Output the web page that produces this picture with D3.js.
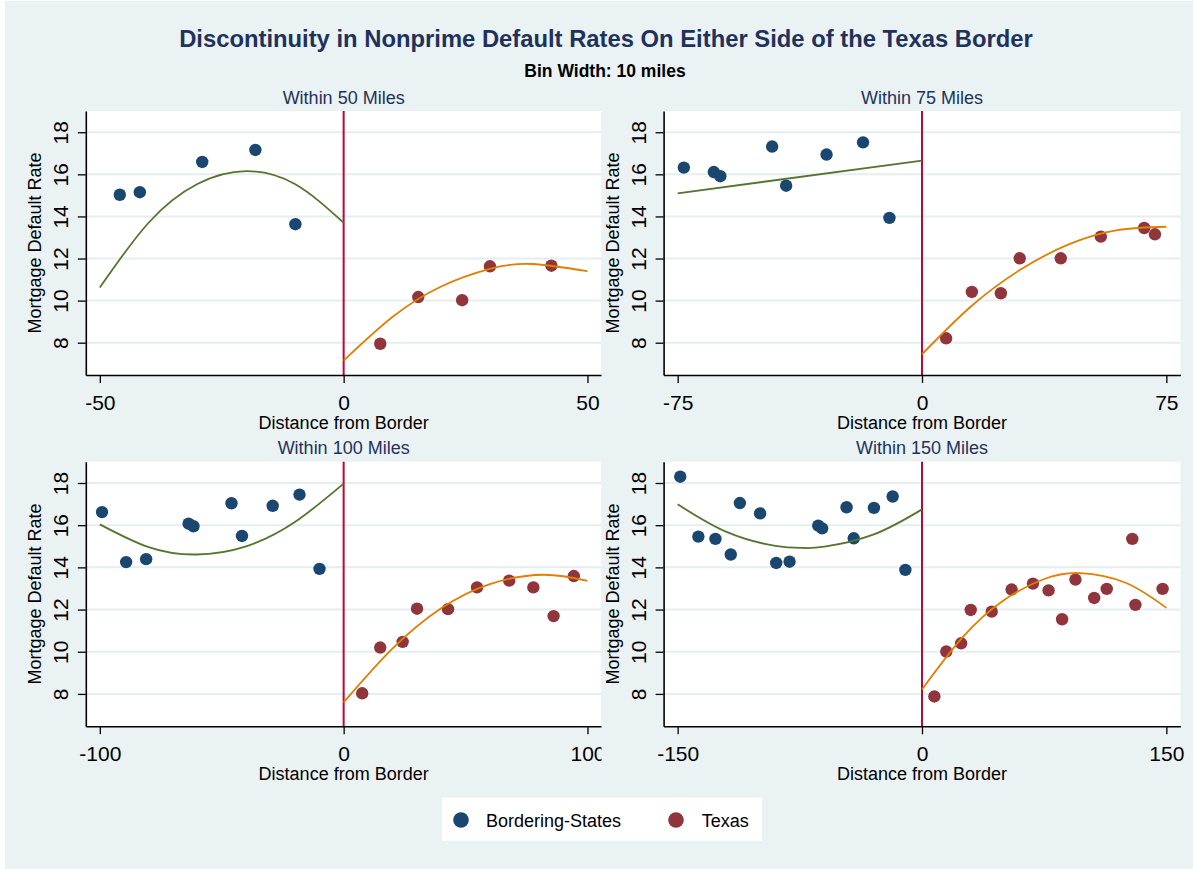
<!DOCTYPE html>
<html>
<head>
<meta charset="utf-8">
<script src="https://cdn.jsdelivr.net/npm/d3@7"></script>
<style>
  body { margin: 0; background: #fff; }
  svg { display: block; }
  text { font-family: "Liberation Sans", Arial, Helvetica, sans-serif; }
</style>
</head>
<body>
<svg id="chart" width="1193" height="869"></svg>
<script>
// ---- text ----
const chartTitle = "Discontinuity in Nonprime Default Rates On Either Side of the Texas Border";
const chartSubtitle = "Bin Width: 10 miles";
const panelTitles = ["Within 50 Miles", "Within 75 Miles", "Within 100 Miles", "Within 150 Miles"];
const bandwidths = [50, 75, 100, 150];
const yTicks = [8, 10, 12, 14, 16, 18];
const seriesNames = ["Bordering-States", "Texas"];
const xLabel = "Distance from Border";
const yLabel = "Mortgage Default Rate";

// ---- binned means: [distance from border (miles), default rate (%)] ----
const border50 = [[-45.9, 15.03], [-41.8, 15.15], [-29.0, 16.59], [-18.1, 17.16], [-9.9, 13.63]];
const texas50 = [[7.5, 7.95], [15.3, 10.17], [24.3, 10.02], [30.0, 11.63], [42.6, 11.66]];

const border75 = [[-73.1, 16.32], [-63.9, 16.11], [-61.9, 15.91], [-46.0, 17.32], [-41.7, 15.46],
                  [-29.3, 16.94], [-18.1, 17.52], [-10.0, 13.93]];
const texas75 = [[7.4, 8.21], [15.3, 10.41], [24.2, 10.35], [30.0, 12.01], [42.6, 12.01],
                 [54.9, 13.04], [68.2, 13.45], [71.5, 13.15]];

const border100 = [[-99.1, 16.62], [-89.2, 14.25], [-81.0, 14.39], [-63.6, 16.07], [-61.6, 15.95],
                   [-46.0, 17.04], [-41.7, 15.49], [-29.1, 16.92], [-18.1, 17.45], [-9.9, 13.93]];
const texas100 = [[7.6, 8.03], [15.0, 10.20], [24.2, 10.47], [30.1, 12.04], [42.8, 12.02],
                  [54.7, 13.05], [67.9, 13.37], [77.8, 13.05], [86.1, 11.69], [94.4, 13.59]];

const border150 = [[-148.4, 18.30], [-137.3, 15.46], [-126.8, 15.35], [-117.4, 14.61], [-111.8, 17.05],
                   [-99.4, 16.56], [-89.5, 14.21], [-81.3, 14.27], [-63.7, 15.98], [-61.3, 15.85],
                   [-46.3, 16.85], [-41.9, 15.38], [-29.5, 16.82], [-18.0, 17.36], [-10.2, 13.88]];
const texas150 = [[7.6, 7.88], [14.9, 10.01], [24.0, 10.40], [29.9, 11.98], [42.8, 11.90],
                  [55.0, 12.95], [68.1, 13.23], [77.7, 12.91], [86.0, 11.54], [94.2, 13.42],
                  [105.7, 12.55], [113.4, 12.98], [129.1, 15.35], [131.0, 12.22], [147.7, 12.98]];

// ---- fitted curves on each side of the border ----
const fitBorder50 = [[-50, 10.62], [-40, 13.70], [-30, 15.54], [-20, 16.15], [-10, 15.54], [0, 13.70]];
const fitTexas50 = [[0, 7.15], [10, 9.22], [20, 10.67], [30, 11.51], [38.6, 11.74], [50, 11.40]];

const fitBorder75 = [[-75, 15.10], [0, 16.65]];
const fitTexas75 = [[0, 7.45], [15, 9.72], [30, 11.45], [45, 12.67], [60, 13.35], [75, 13.51]];

const fitBorder100 = [[-100, 16.04], [-80, 14.96], [-60.5, 14.61], [-40, 15.00], [-20, 16.15], [0, 17.97]];
const fitTexas100 = [[0, 7.60], [20, 10.15], [40, 12.06], [60, 13.21], [82, 13.65], [100, 13.36]];

const fitBorder150 = [[-150, 16.99], [-120, 15.68], [-90, 15.02], [-73, 14.92], [-60, 14.98], [-30, 15.55], [0, 16.75]];
const fitTexas150 = [[0, 8.21], [25, 10.69], [50, 12.43], [75, 13.45], [97, 13.73], [125, 13.27], [150, 12.08]];

// ---- styling ----
const colors = {
  bg: "#eaf2f3", grid: "#e6eef0", border: "#1a476f", texas: "#90353b",
  fitBorder: "#55752f", fitTexas: "#e37e00", cutoff: "#c10534", title: "#1e325c"
};
const yDomain = [6.465, 19.01];
const xPad = 1.0575;

const svg = d3.select("#chart");
const W = 1193, H = 869;

svg.append("rect").attr("x", 0).attr("y", 0).attr("width", W).attr("height", H).attr("fill", "#fff");
svg.append("rect").attr("x", 5).attr("y", 1).attr("width", W - 5).attr("height", H - 1).attr("fill", colors.bg);

svg.append("text").attr("x", 606).attr("y", 46.5).attr("text-anchor", "middle")
  .attr("font-size", 23.8).attr("font-weight", "bold").attr("fill", colors.title).text(chartTitle);
svg.append("text").attr("x", 605).attr("y", 76.5).attr("text-anchor", "middle")
  .attr("font-size", 17.5).attr("font-weight", "bold").attr("fill", "#000").text(chartSubtitle);

const cols = [[85.8, 601.5], [663.6, 1180.4]];
const rows = [[111, 375], [461.7, 726.3]];

const panels = [
  { title: panelTitles[0], lim: bandwidths[0], border: border50, texas: texas50, fitB: fitBorder50, fitT: fitTexas50, c: 0, r: 0 },
  { title: panelTitles[1], lim: bandwidths[1], border: border75, texas: texas75, fitB: fitBorder75, fitT: fitTexas75, c: 1, r: 0 },
  { title: panelTitles[2], lim: bandwidths[2], border: border100, texas: texas100, fitB: fitBorder100, fitT: fitTexas100, c: 0, r: 1 },
  { title: panelTitles[3], lim: bandwidths[3], border: border150, texas: texas150, fitB: fitBorder150, fitT: fitTexas150, c: 1, r: 1 }
];

const defs = svg.append("defs");
defs.append("clipPath").attr("id", "leftCol")
  .append("rect").attr("x", 0).attr("y", 0).attr("width", cols[0][1]).attr("height", H);

panels.forEach((p, i) => {
  const [x0, x1] = cols[p.c];
  const [y0, y1] = rows[p.r];
  const g = svg.append("g");
  if (p.c === 0) g.attr("clip-path", "url(#leftCol)");

  const x = d3.scaleLinear().domain([-p.lim * xPad, p.lim * xPad]).range([x0, x1]);
  const y = d3.scaleLinear().domain(yDomain).range([y1, y0]);

  // plot area
  g.append("rect").attr("x", x0).attr("y", y0).attr("width", x1 - x0).attr("height", y1 - y0).attr("fill", "#fff");

  // horizontal grid
  g.append("g").selectAll("line").data(yTicks).join("line")
    .attr("x1", x0).attr("x2", x1).attr("y1", d => y(d)).attr("y2", d => y(d))
    .attr("stroke", colors.grid).attr("stroke-width", 2);

  // border cutoff
  g.append("line").attr("x1", x(0)).attr("x2", x(0)).attr("y1", y0).attr("y2", y1)
    .attr("stroke", colors.cutoff).attr("stroke-width", 2);

  // binned points
  g.append("g").selectAll("circle").data(p.border).join("circle")
    .attr("cx", d => x(d[0])).attr("cy", d => y(d[1])).attr("r", 6.2).attr("fill", colors.border);
  g.append("g").selectAll("circle").data(p.texas).join("circle")
    .attr("cx", d => x(d[0])).attr("cy", d => y(d[1])).attr("r", 6.2).attr("fill", colors.texas);

  // fitted curves
  const line = d3.line().x(d => x(d[0])).y(d => y(d[1])).curve(d3.curveNatural);
  g.append("path").datum(p.fitB).attr("d", line).attr("fill", "none")
    .attr("stroke", colors.fitBorder).attr("stroke-width", 1.8);
  g.append("path").datum(p.fitT).attr("d", line).attr("fill", "none")
    .attr("stroke", colors.fitTexas).attr("stroke-width", 1.8);

  // x axis (plain hyphen for negatives)
  const xa = g.append("g").attr("transform", `translate(0,${y1})`)
    .call(d3.axisBottom(x).tickValues([-p.lim, 0, p.lim]).tickSize(8).tickSizeOuter(0).tickFormat(d => String(d)));
  xa.select(".domain").attr("stroke", "#000").attr("stroke-width", 1.6);
  xa.selectAll(".tick line").attr("stroke", "#000").attr("stroke-width", 1.3);
  xa.selectAll(".tick text").attr("y", 35).attr("dy", null)
    .attr("font-size", 21).attr("font-family", "Liberation Sans, Arial, sans-serif").attr("fill", "#000");

  // y axis
  const ya = g.append("g").attr("transform", `translate(${x0},0)`)
    .call(d3.axisLeft(y).tickValues(yTicks).tickSize(8).tickSizeOuter(0));
  ya.select(".domain").attr("stroke", "#000").attr("stroke-width", 1.6);
  ya.selectAll(".tick line").attr("stroke", "#000").attr("stroke-width", 1.3);
  ya.selectAll(".tick text").attr("x", null).attr("dy", null).attr("text-anchor", "middle")
    .attr("transform", "translate(-18,0) rotate(-90)")
    .attr("font-size", 21).attr("font-family", "Liberation Sans, Arial, sans-serif").attr("fill", "#000");

  // axis titles
  g.append("text").attr("x", (x0 + x1) / 2).attr("y", y1 + 54).attr("text-anchor", "middle")
    .attr("font-size", 18).attr("fill", "#000").text(xLabel);
  g.append("text").attr("transform", `translate(${x0 - 44.8},${(y0 + y1) / 2}) rotate(-90)`)
    .attr("text-anchor", "middle").attr("font-size", 18).attr("fill", "#000").text(yLabel);

  // panel title
  g.append("text").attr("x", (x0 + x1) / 2).attr("y", y0 - 7.5).attr("text-anchor", "middle")
    .attr("font-size", 18).attr("fill", colors.title).text(p.title);
});

// legend
const lg = svg.append("g");
lg.append("rect").attr("x", 442).attr("y", 797.7).attr("width", 320).attr("height", 43).attr("fill", "#fff");
const legendItems = [
  { name: seriesNames[0], color: colors.border, mx: 461, tx: 486 },
  { name: seriesNames[1], color: colors.texas, mx: 676, tx: 701.7 }
];
legendItems.forEach(d => {
  lg.append("circle").attr("cx", d.mx).attr("cy", 820).attr("r", 7.8).attr("fill", d.color);
  lg.append("text").attr("x", d.tx).attr("y", 826.7).attr("font-size", 18).attr("fill", "#000").text(d.name);
});
</script>
</body>
</html>
